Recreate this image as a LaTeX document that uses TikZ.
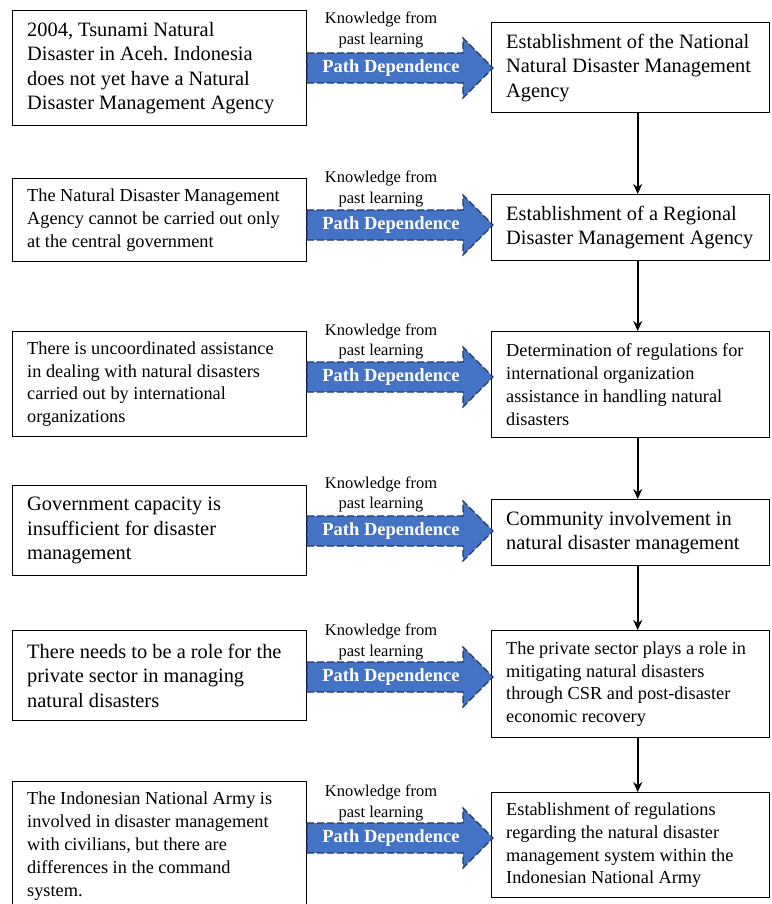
\documentclass[tikz,border=0pt]{standalone}
\usepackage{fontspec}
\setmainfont{Liberation Serif}
\frenchspacing
\usetikzlibrary{arrows.meta}
\definecolor{arrowfill}{HTML}{4472C4}
\definecolor{arrowedge}{HTML}{1F3864}
\begin{document}
\begin{tikzpicture}[x=1pt,y=-1pt,
  box/.style={draw=black,line width=1.4pt,anchor=north west,inner sep=0pt},
  txt/.style={anchor=west,align=left,inner sep=0pt},
  big/.style={font=\fontsize{20.4}{24.5}\selectfont},
  small/.style={font=\fontsize{18.3}{22.8}\selectfont},
  lab/.style={font=\fontsize{16.5}{20.5}\selectfont,align=center},
  pd/.style={font=\bfseries\fontsize{18.5}{20}\selectfont,text=white},
  blockarrow/.style={fill=arrowfill,draw=arrowedge,dash pattern=on 7pt off 3pt,line width=1.2pt},
  down/.style={-{Stealth[length=10pt,width=9pt]},line width=2pt}]
\useasboundingbox (0,0) rectangle (771,904);
\fill[white] (0,0) rectangle (771,904);
% left boxes
\node[box,minimum width=294,minimum height=115] (L1) at (12,10) {};
\node[box,minimum width=294,minimum height=83] (L2) at (12,178) {};
\node[box,minimum width=294,minimum height=105] (L3) at (12,331) {};
\node[box,minimum width=294,minimum height=90] (L4) at (12,485) {};
\node[box,minimum width=294,minimum height=90] (L5) at (12,630) {};
\node[box,minimum width=294,minimum height=129] (L6) at (12,781) {};
\node[txt,big] (L1t) at ([xshift=15pt]L1.west) {2004, Tsunami Natural\\Disaster in Aceh. Indonesia\\does not yet have a Natural\\Disaster Management Agency};
\node[txt,small] (L2t) at ([xshift=15pt]L2.west) {The Natural Disaster Management\\Agency cannot be carried out only\\at the central government};
\node[txt,small] (L3t) at ([xshift=15pt]L3.west) {There is uncoordinated assistance\\in dealing with natural disasters\\carried out by international\\organizations};
\node[txt,big] (L4t) at ([xshift=15pt]L4.west) {Government capacity is\\insufficient for disaster\\management};
\node[txt,big] (L5t) at ([xshift=15pt]L5.west) {There needs to be a role for the\\private sector in managing\\natural disasters};
\node[txt,small] (L6t) at ([xshift=15pt]L6.west) {The Indonesian National Army is\\involved in disaster management\\with civilians, but there are\\differences in the command\\system.};
% right boxes
\node[box,minimum width=278,minimum height=90] (R1) at (491,22) {};
\node[box,minimum width=278,minimum height=66] (R2) at (491,194) {};
\node[box,minimum width=278,minimum height=106] (R3) at (491,331) {};
\node[box,minimum width=278,minimum height=66] (R4) at (491,499) {};
\node[box,minimum width=278,minimum height=107] (R5) at (491,630) {};
\node[box,minimum width=278,minimum height=105] (R6) at (491,792) {};
\node[txt,big] (R1t) at ([xshift=15pt]R1.west) {Establishment of the National\\Natural Disaster Management\\Agency};
\node[txt,big] (R2t) at ([xshift=15pt]R2.west) {Establishment of a Regional\\Disaster Management Agency};
\node[txt,small] (R3t) at ([xshift=15pt]R3.west) {Determination of regulations for\\international organization\\assistance in handling natural\\disasters};
\node[txt,big] (R4t) at ([xshift=15pt]R4.west) {Community involvement in\\natural disaster management};
\node[txt,small] (R5t) at ([xshift=15pt]R5.west) {The private sector plays a role in\\mitigating natural disasters\\through CSR and post-disaster\\economic recovery};
\node[txt,small] (R6t) at ([xshift=15pt]R6.west) {Establishment of regulations\\regarding the natural disaster\\management system within the\\Indonesian National Army};
% block arrows
\foreach \c/\k/\t in {68/1/30, 225/2/189, 377/3/341.5, 531/4/494.5, 677/5/642, 838/6/803}{
  \draw[blockarrow] (307,\c-15) -- (463,\c-15) -- (463,\c-30) -- (493,\c) -- (463,\c+30) -- (463,\c+15) -- (307,\c+15) -- cycle;
  \node[pd] (P\k) at (391,\c) {Path Dependence};
  \node[lab] (K\k) at (381,\t) {Knowledge from\\past learning};
}
% vertical arrows
\foreach \a/\b in {R1/R2,R2/R3,R3/R4,R4/R5,R5/R6}{
  \draw[down] ([xshift=7pt]\a.south) -- ([xshift=7pt]\b.north);
}
\end{tikzpicture}
\end{document}
